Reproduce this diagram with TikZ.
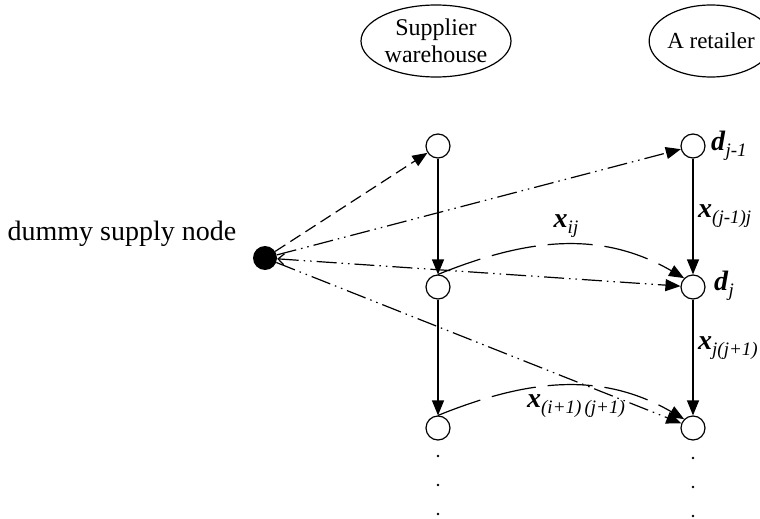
\documentclass[tikz,border=0pt]{standalone}
\usepackage{fontspec}
\setmainfont{Liberation Serif}
\usetikzlibrary{arrows.meta,shapes.geometric}
\tikzset{
  vnode/.style={circle,draw,line width=1.2pt,minimum size=24pt,inner sep=0pt,fill=white},
  dnode/.style={circle,fill=black,minimum size=24pt,inner sep=0pt},
  tri/.style={-{Triangle[length=15pt,width=12pt]}},
  conn/.style={line width=1.2pt},
  dashdotdot/.style={dash pattern=on 20pt off 5pt on 1.5pt off 5pt on 1.5pt off 5pt},
  shortdash/.style={dash pattern=on 12pt off 6pt},
  longdash/.style={dash pattern=on 45pt off 12pt},
  hdr/.style={ellipse,draw,line width=1.2pt,inner sep=0pt,align=center,font=\fontsize{24}{27}\selectfont},
  lab/.style={font=\fontsize{28}{32}\selectfont,inner sep=0pt},
  dotmark/.style={circle,fill=black,minimum size=2.6pt,inner sep=0pt},
}
\newcommand\xlab[2]{\textbf{\textit{#1}}\raisebox{-6pt}{\fontsize{19}{22}\selectfont\textit{#2}}}
\begin{document}
\begin{tikzpicture}[x=1pt,y=-1pt]
\useasboundingbox (0,0) rectangle (760,519);
% headers
\node[hdr,minimum width=150pt,minimum height=72pt] (sw) at (436,41) {Supplier\\warehouse};
\node[hdr,minimum width=100pt,minimum height=72pt,font=\fontsize{23}{27}\selectfont] (ar) at (711,41) {A retailer};
% nodes
\node[dnode] (dm) at (265,258) {};
\node[font=\fontsize{28}{32}\selectfont,inner sep=0pt] (dml) at (122,234) {dummy supply node};
\node[vnode] (tl) at (438,146) {};
\node[vnode] (ml) at (438,287) {};
\node[vnode] (bl) at (438,428) {};
\node[vnode] (tr) at (693,146) {};
\node[vnode] (mr) at (693,287) {};
\node[vnode] (br) at (693,428) {};
% vertical flows
\draw[conn,tri] (tl) -- (ml);
\draw[conn,tri] (ml) -- (bl);
\draw[conn,tri] (tr) -- (mr);
\draw[conn,tri] (mr) -- (br);
% dummy arcs
\draw[conn,shortdash,tri] (dm) -- (tl);
\draw[conn,dashdotdot,tri] (dm) -- (tr);
\draw[conn,dashdotdot,{Straight Barb[length=6pt,width=11pt]}-{Triangle[length=15pt,width=12pt]}] (dm) -- (mr);
\draw[conn,dashdotdot,tri] (dm) -- (br);
% transfer arcs
\draw[conn,longdash,tri] (ml.north) to[out=22,in=150] (mr.north west);
\draw[conn,longdash,tri] (bl.north) to[out=22,in=150] (br.north west);
% labels
\node[lab,anchor=west] (ldj1) at (711,146) {\xlab{d}{j-1}};
\node[lab,anchor=west] (ldj) at (714,286) {\xlab{d}{j}};
\node[lab,anchor=west] (lx1) at (698,216) {\xlab{x}{(j-1)j}};
\node[lab,anchor=west] (lx2) at (698,348) {\xlab{x}{j(j+1)}};
\node[lab] (lxij) at (566,226) {\xlab{x}{ij}};
\node[lab] (lxi1) at (576,406) {\xlab{x}{(i+1)\,(j+1)}};
% continuation dots
\foreach \y [count=\i] in {456,485,514} {\node[dotmark] (dl\i) at (438,\y) {};}
\foreach \y [count=\i] in {458,487,516} {\node[dotmark] (dr\i) at (693,\y) {};}
\end{tikzpicture}
\end{document}
